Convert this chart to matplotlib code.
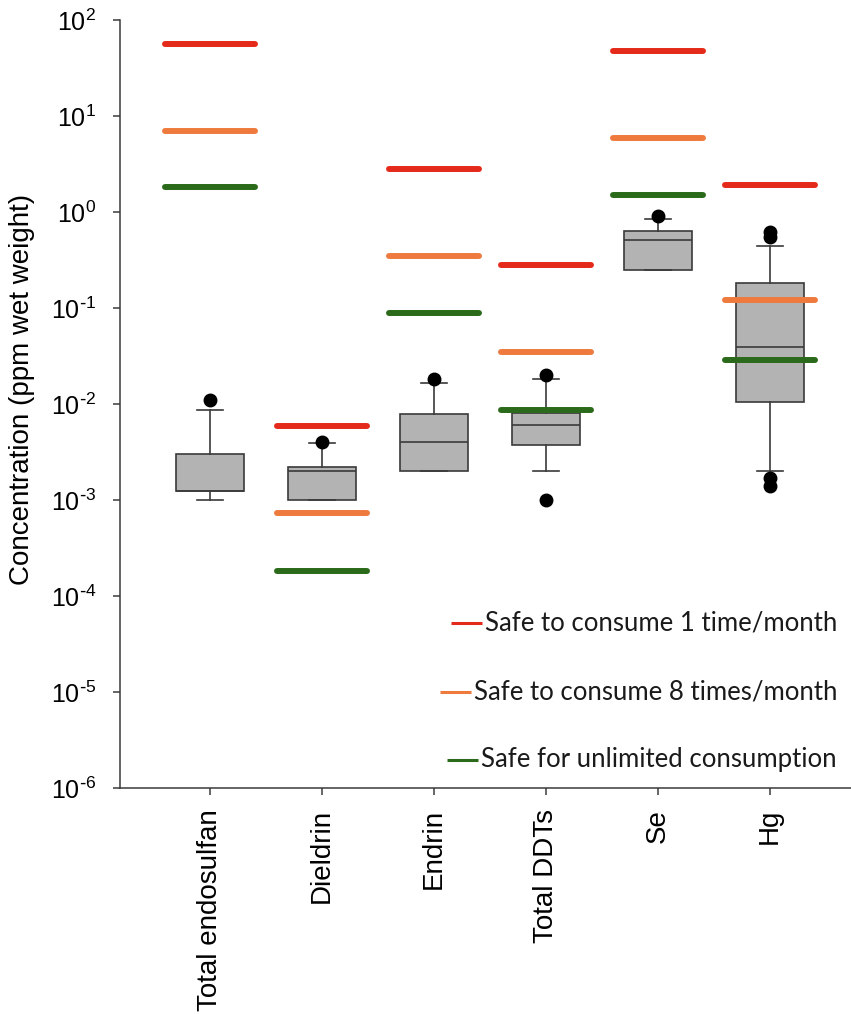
import matplotlib
matplotlib.use("Agg")
import numpy as np
import matplotlib.pyplot as plt
from matplotlib.ticker import LogLocator, NullLocator, FuncFormatter

plt.rcParams["font.family"] = ["Liberation Sans", "DejaVu Sans"]
plt.rcParams["mathtext.default"] = "regular"
plt.rcParams["axes.unicode_minus"] = False

categories = ["Total endosulfan", "Dieldrin", "Endrin", "Total DDTs", "Se", "Hg"]

# consumption advisory limits (ppm wet weight)
limit_1_month = [56, 0.0059, 2.8, 0.28, 47, 1.9]
limit_8_month = [7.0, 0.00073, 0.35, 0.035, 5.9, 0.12]
limit_unlimited = [1.8, 0.00018, 0.088, 0.0086, 1.5, 0.029]

# measured tissue concentrations, box summary per analyte
q1 = [0.00124, 0.0010, 0.0020, 0.0037, 0.25, 0.0105]
medians = [0.00124, 0.0020, 0.0040, 0.0060, 0.51, 0.039]
q3 = [0.0030, 0.0022, 0.0079, 0.0080, 0.64, 0.18]
whisker_lo = [0.0010, 0.0010, 0.0020, 0.0020, 0.25, 0.0020]
whisker_hi = [0.0086, 0.0039, 0.0167, 0.018, 0.84, 0.44]
outliers = [[0.011], [0.004], [0.018], [0.001, 0.020], [0.91],
            [0.0014, 0.0017, 0.55, 0.62]]

legend_labels = ["Safe to consume 1 time/month",
                 "Safe to consume 8 times/month",
                 "Safe for unlimited consumption"]
colors = ["#e42a1a", "#ef7a3e", "#2b6a1b"]

fig = plt.figure(figsize=(8.51, 10.14), dpi=100)
ax = fig.add_axes([120 / 851, 1 - 788 / 1014, 731 / 851, 768 / 1014])

positions = list(range(1, len(categories) + 1))

stats = []
for i, name in enumerate(categories):
    stats.append(dict(label=name, q1=q1[i], med=medians[i], q3=q3[i],
                      whislo=whisker_lo[i], whishi=whisker_hi[i], fliers=outliers[i]))

edge = "#3a3a3a"
ax.bxp(stats, positions=positions, widths=0.6, patch_artist=True,
       boxprops=dict(facecolor="#b3b3b3", edgecolor=edge, linewidth=1.2),
       medianprops=dict(color=edge, linewidth=1.2),
       whiskerprops=dict(color=edge, linewidth=1.2),
       capprops=dict(color=edge, linewidth=1.2),
       capwidths=0.23,
       flierprops=dict(marker="o", markerfacecolor="black", markeredgecolor="black",
                       markersize=9),
       zorder=2)

# advisory limit bars over each analyte
half = 0.4
for limits, c in zip([limit_1_month, limit_8_month, limit_unlimited], colors):
    for x, v in zip(positions, limits):
        ax.plot([x - half, x + half], [v, v], color=c, linewidth=4.3,
                solid_capstyle="round", zorder=4)


def power_label(v, pos):
    e = int(round(np.log10(v)))
    if e < 0:
        return r"$10^{\text{-}%d}$" % -e
    return r"$10^{%d}$" % e


ax.set_yscale("log")
ax.set_ylim(1e-6, 1e2)
ax.set_xlim(0.196, 6.723)
ax.yaxis.set_major_locator(LogLocator(base=10, numticks=20))
ax.yaxis.set_minor_locator(NullLocator())
ax.yaxis.set_major_formatter(FuncFormatter(power_label))
ax.set_xticks(positions)
ax.set_xticklabels(categories, rotation=90, fontsize=20)

for side in ["top", "right"]:
    ax.spines[side].set_visible(False)
for side in ["left", "bottom"]:
    ax.spines[side].set_color(edge)
    ax.spines[side].set_linewidth(1.1)
ax.tick_params(axis="y", direction="out", length=5, width=1.1, color=edge,
               labelsize=18, pad=12)
ax.tick_params(axis="x", direction="out", length=5, width=1.1, color=edge, pad=10)

ax.set_ylabel("Concentration (ppm wet weight)", fontsize=20)
ax.yaxis.set_label_coords(-0.116, 0.5195)

# right-aligned legend entries with short handles to their left
text_y = [0.2148, 0.125, 0.0365]
texts = []
for lab, ty in zip(legend_labels, text_y):
    t = ax.text(0.981, ty, lab, transform=ax.transAxes, ha="right", va="center",
                fontsize=18.5, family=["Lato", "DejaVu Sans"], color="#1a1a1a")
    texts.append(t)

fig.canvas.draw()
renderer = fig.canvas.get_renderer()
inv = ax.transAxes.inverted()
for t, c in zip(texts, colors):
    bb = t.get_window_extent(renderer)
    x1, yc = inv.transform((bb.x0 - 3, (bb.y0 + bb.y1) / 2))
    x0, _ = inv.transform((bb.x0 - 34, 0))
    ax.plot([x0, x1], [yc, yc], color=c, linewidth=2.2, transform=ax.transAxes,
            solid_capstyle="butt", clip_on=False)

fig.savefig("out.png", dpi=100)
